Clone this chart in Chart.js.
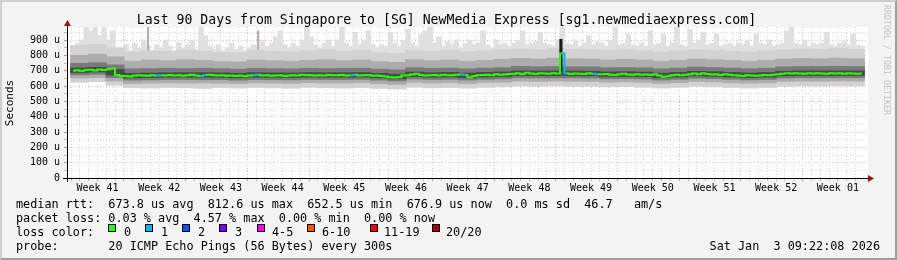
<!DOCTYPE html>
<html>
<head>
<meta charset="utf-8">
<script src="https://cdn.jsdelivr.net/npm/chart.js@4.4.1/dist/chart.umd.min.js"></script>
<style>
  html, body { margin: 0; padding: 0; background: #f3f3f3; }
  #wrap { position: relative; width: 897px; height: 260px; overflow: hidden; font-family: "DejaVu Sans Mono", monospace; color: #000; }
  #c { position: absolute; left: 0; top: 0; }
  #frame { position: absolute; left: 0; top: 0; width: 897px; height: 260px; box-sizing: border-box;
           border-top: 2px solid #cfcfcf; border-left: 2px solid #cfcfcf;
           border-right: 2px solid #9e9e9e; border-bottom: 2px solid #9e9e9e; pointer-events: none; }
  .txt { position: absolute; white-space: pre; }
  .leg { left: 16px; font-size: 11.8px; line-height: 14px; }
  .sq { position: absolute; top: 224px; width: 6px; height: 6px; border: 1px solid #000; }
</style>
</head>
<body>
<div id="wrap">
  <canvas id="c" width="897" height="260"></canvas>
  <div class="txt" style="left:0;width:893px;text-align:center;top:11.5px;font-size:13.2px;line-height:16px">Last 90 Days from Singapore to [SG] NewMedia Express [sg1.newmediaexpress.com]</div>
  <div class="txt" style="left:-30px;top:95.5px;width:80px;text-align:center;font-size:11px;line-height:14px;transform:rotate(-90deg)">Seconds</div>
  <div class="txt" style="left:826.5px;top:55px;width:120px;text-align:center;font-size:8.3px;line-height:10px;color:#c2c2c2;transform:rotate(90deg)">RRDTOOL / TOBI OETIKER</div>
  <div class="txt leg" style="top:197px">median rtt:  673.8 us avg  812.6 us max  652.5 us min  676.9 us now  0.0 ms sd  46.7   am/s</div>
  <div class="txt leg" style="top:211px">packet loss: 0.03 % avg  4.57 % max  0.00 % min  0.00 % now</div>
  <div class="txt leg" style="top:225px">loss color:</div>
  <div id="losskey"></div>
  <div class="txt leg" style="top:239px">probe:       20 ICMP Echo Pings (56 Bytes) every 300s</div>
  <div class="txt leg" style="top:239px;left:auto;right:17px">Sat Jan  3 09:22:08 2026</div>
  <div id="frame"></div>
</div>
<script>
// 90 days: half-day slots for median and smoke tops, 2-day slots for the smoke bands (values in us)
const totalDays = 90;
const yMax = 985;

const medianRtt = [
  700, 703, 698, 704, 706, 701, 707, 704, 709, 714,
  672, 666, 665, 662, 668, 671, 669, 667, 670, 668,
  670, 668, 672, 669, 671, 667, 670, 673, 668, 666,
  672, 674, 670, 668, 671, 667, 669, 665, 668, 664,
  668, 671, 673, 669, 670, 667, 668, 670, 666, 668,
  671, 669, 673, 672, 670, 668, 671, 669, 672, 670,
  670, 672, 669, 671, 673, 668, 670, 672, 667, 669,
  666, 662, 657, 656, 658, 668, 671, 675, 680, 672,
  668, 670, 672, 669, 674, 671, 670, 673, 675, 672,
  658, 665, 670, 672, 674, 671, 676, 673, 675, 678,
  680, 684, 678, 686, 682, 679, 684, 681, 680, 683,
  681, 812, 684, 679, 682, 680, 678, 683, 680, 677,
  676, 679, 674, 672, 677, 680, 675, 673, 676, 674,
  675, 672, 676, 668, 660, 664, 670, 673, 671, 674,
  676, 681, 677, 683, 678, 675, 677, 672, 676, 674,
  671, 668, 666, 670, 668, 667, 669, 672, 670, 674,
  676, 680, 683, 681, 684, 682, 680, 683, 681, 684,
  682, 680, 684, 681, 683, 680, 684, 682, 680, 681
];
// slots whose median carries 1 lost packet
const lossSlots = [19, 29, 41, 63, 88, 111, 118];

const smokeTop = [
  860, 880, 900, 985, 960, 985, 930, 985, 900, 960,
  840, 820, 870, 830, 880, 850, 900, 860, 830, 870,
  850, 900, 860, 830, 880, 850, 870, 900, 840, 985,
  930, 860, 840, 870, 830, 850, 880, 840, 860, 830,
  850, 870, 830, 900, 860, 880, 920, 960, 870, 850,
  880, 860, 900, 985, 920, 870, 850, 880, 900, 860,
  900, 985, 880, 860, 950, 870, 900, 960, 870, 850,
  870, 860, 950, 880, 860, 900, 970, 880, 860, 940,
  960, 985, 880, 920, 860, 890, 870, 900, 850, 880,
  900, 870, 880, 960, 870, 850, 900, 870, 880, 860,
  880, 900, 960, 870, 880, 890, 950, 880, 870, 860,
  900, 985, 880, 870, 900, 860, 880, 930, 870, 890,
  880, 860, 900, 985, 870, 880, 940, 870, 860, 880,
  860, 960, 870, 880, 940, 860, 880, 985, 870, 860,
  970, 880, 900, 950, 870, 880, 940, 860, 870, 880,
  860, 880, 870, 900, 860, 940, 880, 870, 900, 860,
  870, 880, 960, 985, 880, 870, 900, 860, 880, 870,
  880, 950, 870, 860, 880, 890, 870, 940, 870, 860
];
const smokeFloor = 700;

const lightLow = [624, 628, 605, 588, 586, 590, 588, 584, 589, 586, 590, 587, 585, 591, 588, 586, 590, 584, 580, 592, 588, 590, 586, 591, 594, 600, 598, 601, 597, 599, 594, 596, 592, 586, 591, 598, 594, 590, 586, 590, 598, 601, 599, 602, 600];
const midLow   = [652, 655, 632, 616, 618, 621, 619, 620, 618, 616, 621, 619, 617, 622, 620, 619, 622, 615, 610, 624, 620, 622, 616, 623, 625, 632, 630, 632, 630, 629, 625, 627, 624, 617, 622, 629, 626, 621, 618, 621, 630, 632, 631, 633, 632];
const darkLow  = [673, 677, 655, 638, 640, 642, 642, 641, 641, 638, 642, 641, 640, 643, 642, 642, 643, 638, 633, 646, 642, 644, 639, 644, 647, 654, 653, 653, 653, 652, 647, 648, 646, 639, 644, 651, 648, 644, 640, 643, 652, 654, 654, 654, 654];
const coreLow  = [688, 692, 672, 653, 655, 657, 657, 657, 656, 653, 657, 656, 655, 658, 657, 657, 658, 653, 647, 661, 657, 659, 654, 659, 662, 669, 668, 668, 668, 667, 662, 663, 661, 654, 659, 666, 663, 659, 655, 658, 667, 669, 669, 669, 669];
const coreHigh = [718, 722, 708, 683, 685, 687, 687, 687, 686, 683, 687, 686, 685, 688, 687, 687, 688, 683, 677, 691, 687, 689, 684, 689, 692, 699, 698, 698, 698, 697, 692, 693, 691, 684, 689, 696, 693, 689, 685, 688, 697, 699, 699, 699, 699];
const darkHigh = [748, 752, 738, 712, 714, 716, 714, 716, 713, 710, 715, 713, 712, 716, 714, 715, 716, 710, 706, 720, 715, 717, 712, 717, 720, 728, 726, 727, 726, 725, 720, 721, 719, 712, 717, 724, 721, 717, 713, 716, 725, 727, 727, 728, 727];
const midHigh  = [800, 808, 790, 762, 770, 765, 772, 768, 760, 758, 770, 766, 762, 768, 772, 766, 770, 760, 755, 772, 766, 770, 762, 768, 774, 780, 776, 782, 778, 776, 770, 774, 770, 762, 768, 776, 772, 768, 762, 768, 776, 780, 778, 782, 778];
const bodyTop  = [865, 872, 850, 822, 830, 826, 835, 828, 820, 818, 832, 826, 822, 830, 836, 828, 832, 818, 812, 834, 828, 832, 824, 830, 836, 842, 838, 845, 840, 836, 832, 836, 830, 822, 830, 838, 834, 828, 822, 830, 838, 842, 840, 845, 840];

const darkSpikeSlots = [17, 42, 88];
const darkSpikeTops = [985, 960, 815];
const burstDay = 55.6;
const burstRange = [700, 905];

const weekLabels = ['Week 41', 'Week 42', 'Week 43', 'Week 44', 'Week 45', 'Week 46', 'Week 47',
                    'Week 48', 'Week 49', 'Week 50', 'Week 51', 'Week 52', 'Week 01'];
const firstWeekEdge = 6.52;   // day offset of the first week boundary

const lossNames = ['0', '1', '2', '3', '4-5', '6-10', '11-19', '20/20'];
const lossColors = ['#26ff00', '#00b8ff', '#0059ff', '#7e00ff', '#ff00ff', '#ff5500', '#ff0000', '#a10000'];
const lossKeyX = [108, 145, 182, 219, 257, 307, 370, 432];
const lossTextX = [124, 161, 198, 235, 272, 322, 384, 446];

// loss colour key
const key = document.getElementById('losskey');
lossNames.forEach((n, i) => {
    const sq = document.createElement('div');
    sq.className = 'sq';
    sq.style.left = lossKeyX[i] + 'px';
    sq.style.background = lossColors[i];
    key.appendChild(sq);
    const t = document.createElement('div');
    t.className = 'txt leg';
    t.style.top = '225px';
    t.style.left = lossTextX[i] + 'px';
    t.textContent = n;
    key.appendChild(t);
});

const slotX = (i, n) => (i + 0.5) * totalDays / n;
const band = (lo, hi) => lo.map((v, i) => ({ x: slotX(i, lo.length), y: [v, hi[i]] }));

function xTicks () {
    const ticks = [];
    for (let d = firstWeekEdge - 6; d < totalDays; d++) {
        const w = Math.abs(((d - firstWeekEdge) % 7 + 7) % 7) < 1e-6;
        ticks.push({ value: d, kind: w ? 'week' : 'day' });
    }
    weekLabels.forEach((t, k) => {
        ticks.push({ value: firstWeekEdge - 3.5 + 7 * k, kind: 'label', text: t });
    });
    return ticks;
}

function yTicks () {
    const ticks = [];
    for (let v = 0; v < yMax; v += 50) ticks.push({ value: v, kind: v % 100 === 0 ? 'week' : 'day' });
    return ticks;
}

const gridColor = c => !c.tick ? '#d4d4d4' : c.tick.kind === 'week' ? '#f5b0b0' : c.tick.kind === 'day' ? '#d4d4d4' : 'rgba(0,0,0,0)';
const tickColor = c => !c.tick ? '#c0c0c0' : c.tick.kind === 'week' ? '#e88080' : c.tick.kind === 'day' ? '#bbbbbb' : 'rgba(0,0,0,0)';

const plotFrame = {
    id: 'plotFrame',
    beforeDraw (chart) {
        const { ctx, chartArea: a } = chart;
        ctx.save();
        ctx.fillStyle = '#ffffff';
        ctx.fillRect(a.left, a.top, a.right - a.left, a.bottom - a.top);
        ctx.restore();
    },
    afterDatasetsDraw (chart) {
        const { ctx, chartArea: a } = chart;
        ctx.save();
        ctx.strokeStyle = '#000';
        ctx.lineWidth = 1;
        ctx.beginPath();
        ctx.moveTo(a.left - 4, a.bottom + 0.5);
        ctx.lineTo(a.right + 1, a.bottom + 0.5);
        ctx.moveTo(a.left + 0.5, a.bottom + 4);
        ctx.lineTo(a.left + 0.5, a.top - 1);
        ctx.stroke();
        ctx.fillStyle = '#a01010';
        ctx.beginPath();
        ctx.moveTo(a.right, a.bottom - 3);
        ctx.lineTo(a.right + 6, a.bottom + 0.5);
        ctx.lineTo(a.right, a.bottom + 4);
        ctx.fill();
        ctx.beginPath();
        ctx.moveTo(a.left - 3, a.top - 1);
        ctx.lineTo(a.left + 0.5, a.top - 7);
        ctx.lineTo(a.left + 4, a.top - 1);
        ctx.fill();
        ctx.restore();
    }
};

const bar = { type: 'bar', grouped: false, borderWidth: 0, borderSkipped: false };

Chart.defaults.font.family = "'DejaVu Sans Mono', monospace";
Chart.defaults.font.size = 10;
Chart.defaults.color = '#000';

const chart = new Chart(document.getElementById('c').getContext('2d'), {
    type: 'bar',
    data: {
        datasets: [
            {
                type: 'line',
                label: 'median rtt',
                data: medianRtt.map((v, i) => ({ x: slotX(i, medianRtt.length), y: v })),
                stepped: 'middle',
                borderColor: lossColors[0],
                borderWidth: 2,
                pointRadius: 0,
                segment: { borderColor: c => lossSlots.includes(c.p0DataIndex) ? lossColors[1] : undefined },
                order: 1
            },
            Object.assign({}, bar, { label: 'burst', data: [{ x: burstDay, y: burstRange }], backgroundColor: '#1a1a1a', barThickness: 2.5, order: 2 }),
            Object.assign({}, bar, { label: 'core', data: band(coreLow, coreHigh), backgroundColor: '#4a4a4a', barThickness: 18.4, order: 3 }),
            Object.assign({}, bar, { label: 'dark', data: band(darkLow, darkHigh), backgroundColor: '#7a7a7a', barThickness: 18.4, order: 4 }),
            Object.assign({}, bar, { label: 'mid', data: band(midLow, midHigh), backgroundColor: '#adadad', barThickness: 18.4, order: 5 }),
            Object.assign({}, bar, { label: 'body', data: band(lightLow, bodyTop), backgroundColor: '#d2d2d2', barThickness: 18.4, order: 6 }),
            Object.assign({}, bar, { label: 'dark spikes', data: darkSpikeSlots.map((s, i) => ({ x: slotX(s, medianRtt.length), y: [smokeFloor, darkSpikeTops[i]] })), backgroundColor: '#b0b0b0', barThickness: 1.5, order: 7 }),
            Object.assign({}, bar, { label: 'spikes', data: smokeTop.map((v, i) => ({ x: slotX(i, smokeTop.length), y: [smokeFloor, v] })), backgroundColor: '#e0e0e0', barThickness: 4.9, order: 8 })
        ]
    },
    options: {
        responsive: false,
        animation: false,
        devicePixelRatio: 1,
        layout: { padding: { left: 0, right: 29, top: 27, bottom: 62 } },
        plugins: { legend: { display: false }, tooltip: { enabled: false }, title: { display: false } },
        scales: {
            x: {
                type: 'linear',
                min: 0,
                max: totalDays,
                afterFit: s => { s.height = 20; },
                afterBuildTicks: s => { s.ticks = xTicks(); },
                grid: { color: gridColor, tickColor: tickColor, tickLength: 3, lineWidth: 1 },
                border: { display: false, dash: [1, 2] },
                ticks: { autoSkip: false, maxRotation: 0, padding: 1, callback: (v, i, t) => t[i].text || '' }
            },
            y: {
                min: 0,
                max: yMax,
                afterFit: s => { s.width = 67; },
                afterBuildTicks: s => { s.ticks = yTicks(); },
                grid: { color: gridColor, tickColor: tickColor, tickLength: 3, lineWidth: 1 },
                border: { display: false, dash: [1, 2] },
                ticks: { autoSkip: false, padding: 4, callback: v => v === 0 ? '0' : (v % 100 === 0 ? v + ' u' : '') }
            }
        }
    },
    plugins: [plotFrame]
});
</script>
</body>
</html>
